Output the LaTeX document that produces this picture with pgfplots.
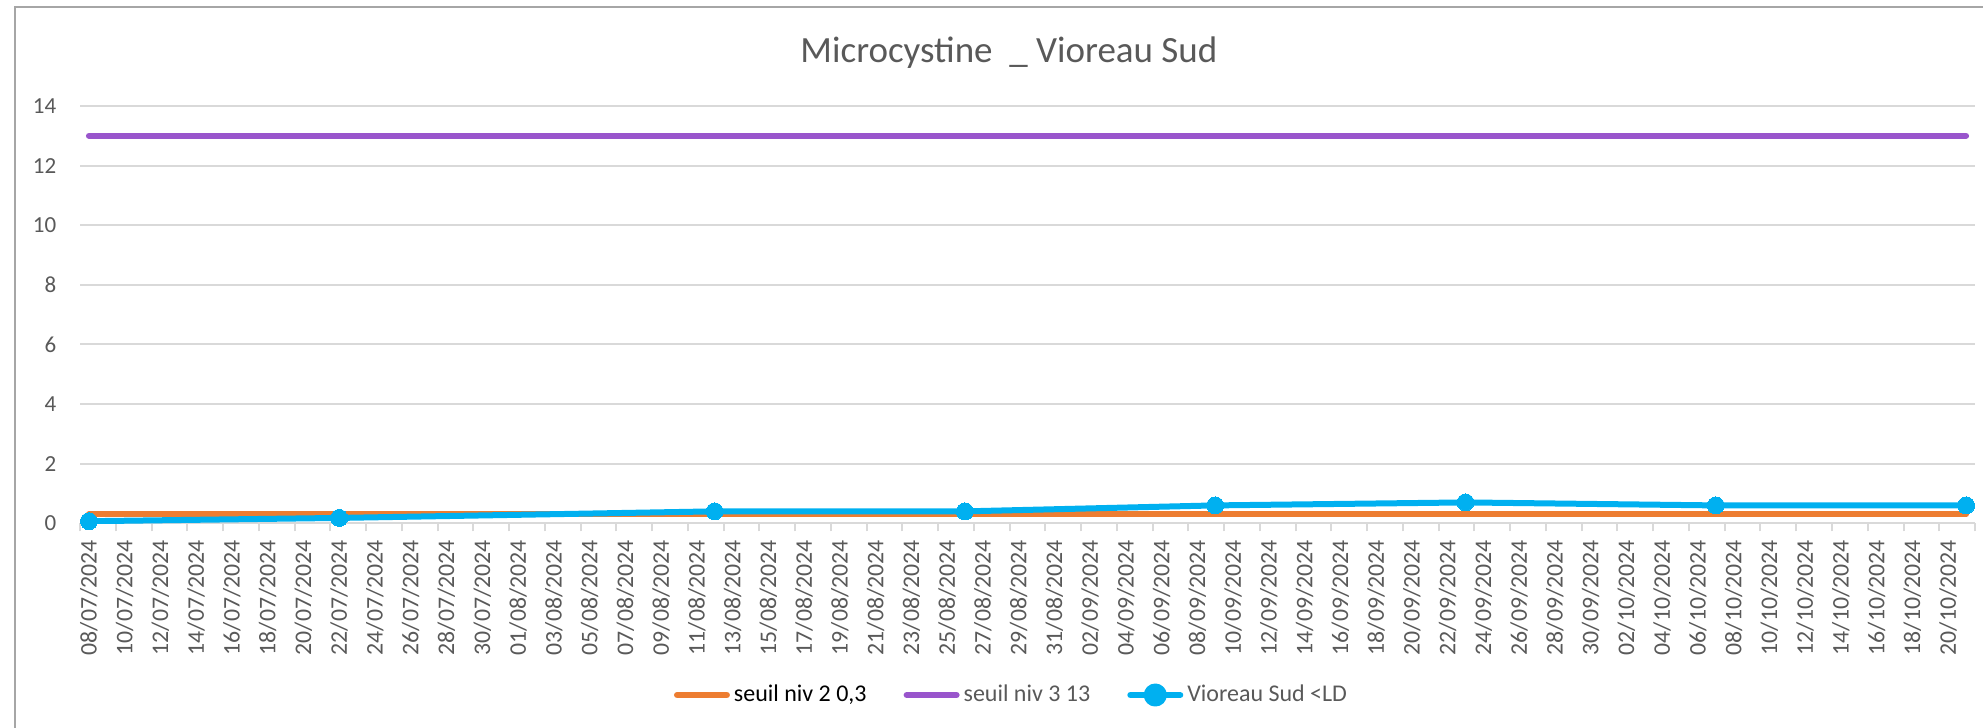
\documentclass[border=0pt]{standalone}
\usepackage{fontspec}
\setmainfont{Carlito}
\usepackage{pgfplots}
\pgfplotsset{compat=1.18}
\definecolor{orangeS}{HTML}{ED7D31}
\definecolor{purpleS}{HTML}{9955CC}
\definecolor{blueS}{HTML}{00B0F0}
\definecolor{txtgray}{HTML}{595959}
\definecolor{gridgray}{HTML}{D9D9D9}
\definecolor{framegray}{HTML}{A6A6A6}

\pgfplotstableread{
x y
0.5 13
105.5 13
}\seuilTrois
\pgfplotstableread{
x y
0.5 0.3
105.5 0.3
}\seuilDeux
\pgfplotstableread{
x y
0.5 0.07
14.5 0.18
35.5 0.4
49.5 0.4
63.5 0.6
77.5 0.7
91.5 0.6
105.5 0.6
}\vioreau

\begin{document}
\begin{tikzpicture}[x=1pt,y=1pt]
\path[use as bounding box] (0,0) rectangle (991.5,364);
\draw[framegray, line width=0.75pt] (7.5,0) -- (7.5,360.5) -- (991.5,360.5);
\begin{axis}[
  at={(40pt,102.35pt)}, anchor=south west,
  scale only axis, width=947.5pt, height=208.65pt,
  xmin=0, xmax=106, ymin=0, ymax=14,
  axis line style={draw=none},
  ytick={0,2,...,14},
  ymajorgrids, grid style={gridgray, line width=1pt},
  xtick={0.5,2.5,...,104.5},
  xticklabels={08/07/2024,10/07/2024,12/07/2024,14/07/2024,16/07/2024,18/07/2024,20/07/2024,22/07/2024,24/07/2024,26/07/2024,28/07/2024,30/07/2024,
    01/08/2024,03/08/2024,05/08/2024,07/08/2024,09/08/2024,11/08/2024,13/08/2024,15/08/2024,17/08/2024,19/08/2024,21/08/2024,23/08/2024,25/08/2024,27/08/2024,29/08/2024,31/08/2024,
    02/09/2024,04/09/2024,06/09/2024,08/09/2024,10/09/2024,12/09/2024,14/09/2024,16/09/2024,18/09/2024,20/09/2024,22/09/2024,24/09/2024,26/09/2024,28/09/2024,30/09/2024,
    02/10/2024,04/10/2024,06/10/2024,08/10/2024,10/10/2024,12/10/2024,14/10/2024,16/10/2024,18/10/2024,20/10/2024},
  minor xtick={0,2,...,106},
  major tick length=0pt, minor tick length=4pt, tick align=outside,
  minor tick style={gridgray, line width=1pt},
  xtick pos=bottom, ytick pos=left,
  ytick style={draw=none},
  /pgf/number format/assume math mode=true,
  xticklabel style={rotate=90, anchor=east, inner sep=0pt, font=\fontsize{11.9}{14}\selectfont, text=txtgray},
  xticklabel shift=8.3pt,
  yticklabel style={anchor=east, inner sep=0pt, font=\fontsize{11.5}{14}\selectfont, text=txtgray},
  yticklabel shift=11.7pt,
  title={Microcystine~ \_ Vioreau Sud},
  every axis title shift=0pt,
  title style={at={(0.4902,1.1038)}, anchor=base, inner sep=0pt, font=\fontsize{18.5}{21}\selectfont, text=txtgray},
  legend columns=3,
  legend cell align=left,
  legend style={at={(0.4921,-0.4115)}, anchor=center, draw=none, fill=none,
    font=\fontsize{12}{14}\selectfont, text=txtgray, inner sep=0pt,
    /tikz/every even column/.append style={column sep=16.5pt}},
]
\addplot[orangeS, line width=3pt, line cap=round, no marks,
  legend image code/.code={\draw[orangeS, line width=3.2pt, line cap=round] (1.6pt,0pt) -- (26.4pt,0pt);}]
  table[x=x,y=y] {\seuilDeux};
\addlegendentry{\textcolor{black}{seuil niv 2 0,3}}
\addplot[purpleS, line width=3pt, line cap=round, no marks,
  legend image code/.code={\draw[purpleS, line width=3.2pt, line cap=round] (1.6pt,0pt) -- (26.4pt,0pt);}]
  table[x=x,y=y] {\seuilTrois};
\addlegendentry{seuil niv 3 13}
\addplot[blueS, line width=3pt, line cap=round, line join=round, mark=*, mark size=4.25pt,
  mark options={fill=blueS, draw=blueS, line width=0pt},
  legend image code/.code={\draw[blueS, line width=3.2pt, line cap=round] (1.6pt,0pt) -- (26.4pt,0pt);
    \fill[blueS] (14pt,0pt) circle (4.25pt);}]
  table[x=x,y=y] {\vioreau};
\addlegendentry{Vioreau Sud <LD}
\end{axis}
\end{tikzpicture}
\end{document}
